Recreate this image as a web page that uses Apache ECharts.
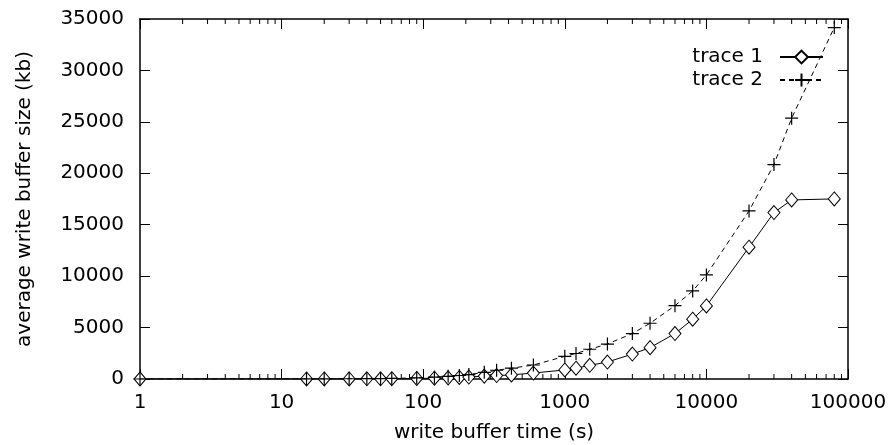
<!DOCTYPE html>
<html><head><meta charset="utf-8">
<script src="https://cdn.jsdelivr.net/npm/echarts@6/dist/echarts.min.js"></script>
<style>html,body{margin:0;padding:0;background:#fff}#c{width:891px;height:445px}</style>
</head><body><div id="c"></div>
<script>
const times  = [1, 15, 20, 30, 40, 50, 60, 90, 120, 150, 180, 210, 270, 330, 420, 600, 1000, 1200, 1500, 2000, 3000, 4000, 6000, 8000, 10000, 20000, 30000, 40000, 80000];
const trace1 = [0, 5, 8, 12, 18, 22, 28, 50, 80, 110, 150, 190, 280, 330, 400, 580, 880, 1050, 1330, 1650, 2420, 3050, 4420, 5810, 7100, 12810, 16180, 17410, 17510];
const trace2 = [0, 10, 15, 25, 35, 45, 55, 110, 180, 260, 340, 430, 650, 850, 1050, 1360, 2200, 2480, 2890, 3400, 4420, 5420, 7130, 8560, 10120, 16340, 20850, 25360, 34170];
const seriesNames = ['trace 1', 'trace 2'];
const xTickLabels = ['1', '10', '100', '1000', '10000', '100000'];
const yTickLabels = ['0', '5000', '10000', '15000', '20000', '25000', '30000', '35000'];
const minorTicks = [2,3,4,5,6,7,8,9, 20,30,40,50,60,70,80,90, 200,300,400,500,600,700,800,900, 2000,3000,4000,5000,6000,7000,8000,9000, 20000,30000,40000,50000,60000,70000,80000,90000];

const FONT = 'DejaVu Sans';
const yMin = Number(yTickLabels[0]), yMax = Number(yTickLabels[yTickLabels.length-1]);
const xMin = Number(xTickLabels[0]), xMax = Number(xTickLabels[xTickLabels.length-1]);
const decades = xTickLabels.length - 1;

const chart = echarts.init(document.getElementById('c'), null, {renderer: 'canvas'});
const axisLine = {show: true, onZero: false, lineStyle: {color: '#000', width: 1.5}};
const majorTick = {show: true, inside: true, length: 10, lineStyle: {color: '#000', width: 1}};
const option = {
  animation: false,
  backgroundColor: '#fff',
  textStyle: {fontFamily: FONT},
  grid: {left: 140, right: 43, top: 19, bottom: 66, containLabel: false, outerBoundsMode: 'none'},
  legend: {
    orient: 'vertical', right: 62, top: 42, align: 'right',
    itemWidth: 43, itemHeight: 16, itemGap: 3,
    textStyle: {fontFamily: FONT, fontSize: 20, color: '#000', padding: [0, 12, 0, 0]},
    data: seriesNames
  },
  xAxis: [{
    type: 'log', logBase: 10, min: xMin, max: xMax, position: 'bottom',
    name: 'write buffer time (s)', nameLocation: 'middle', nameGap: 44,
    nameTextStyle: {fontFamily: FONT, fontSize: 20, color: '#000'},
    axisLine: axisLine, axisTick: majorTick,
    axisLabel: {margin: 14, fontFamily: FONT, fontSize: 20, color: '#000',
      formatter: v => String(Math.round(v))},
    splitLine: {show: false}, minorTick: {show: false}
  }, {
    type: 'value', min: 0, max: decades, interval: 1, position: 'top',
    axisLine: axisLine, axisTick: majorTick,
    axisLabel: {show: false}, splitLine: {show: false}
  }],
  yAxis: [{
    type: 'value', min: yMin, max: yMax, interval: 5000, position: 'left',
    name: 'average write buffer size (kb)', nameLocation: 'middle', nameGap: 105,
    nameTextStyle: {fontFamily: FONT, fontSize: 20, color: '#000'},
    axisLine: axisLine, axisTick: majorTick,
    axisLabel: {margin: 16, fontFamily: FONT, fontSize: 20, color: '#000',
      formatter: v => String(v)},
    splitLine: {show: false}
  }, {
    type: 'value', min: yMin, max: yMax, interval: 5000, position: 'right',
    axisLine: axisLine, axisTick: majorTick,
    axisLabel: {show: false}, splitLine: {show: false}
  }],
  series: [{
    type: 'custom', name: 'minor', silent: true, xAxisIndex: 0, yAxisIndex: 0, z: 1,
    data: minorTicks.map(v => [v, yMin]),
    renderItem: function (params, api) {
      const v = api.value(0);
      const b = api.coord([v, yMin]);
      const t = api.coord([v, yMax]);
      const st = {stroke: '#000', lineWidth: 1};
      return {type: 'group', children: [
        {type: 'line', shape: {x1: b[0], y1: b[1], x2: b[0], y2: b[1] - 5}, style: st},
        {type: 'line', shape: {x1: t[0], y1: t[1], x2: t[0], y2: t[1] + 5}, style: st}
      ]};
    }
  }, {
    type: 'line', name: seriesNames[0], xAxisIndex: 0, yAxisIndex: 0, z: 3,
    data: times.map((t, i) => [t, trace1[i]]),
    symbol: 'diamond', symbolSize: [12, 14], showAllSymbol: true,
    lineStyle: {color: '#000', width: 1, type: 'solid'},
    itemStyle: {color: '#fff', borderColor: '#000', borderWidth: 1}
  }, {
    type: 'line', name: seriesNames[1], xAxisIndex: 0, yAxisIndex: 0, z: 4,
    data: times.map((t, i) => [t, trace2[i]]),
    symbol: 'path://M0,6H12M6,0V12', symbolSize: 13, showAllSymbol: true,
    lineStyle: {color: '#000', width: 1, type: [5, 4]},
    itemStyle: {color: '#000', borderColor: '#000', borderWidth: 1.2}
  }]
};
chart.setOption(option);
</script></body></html>
